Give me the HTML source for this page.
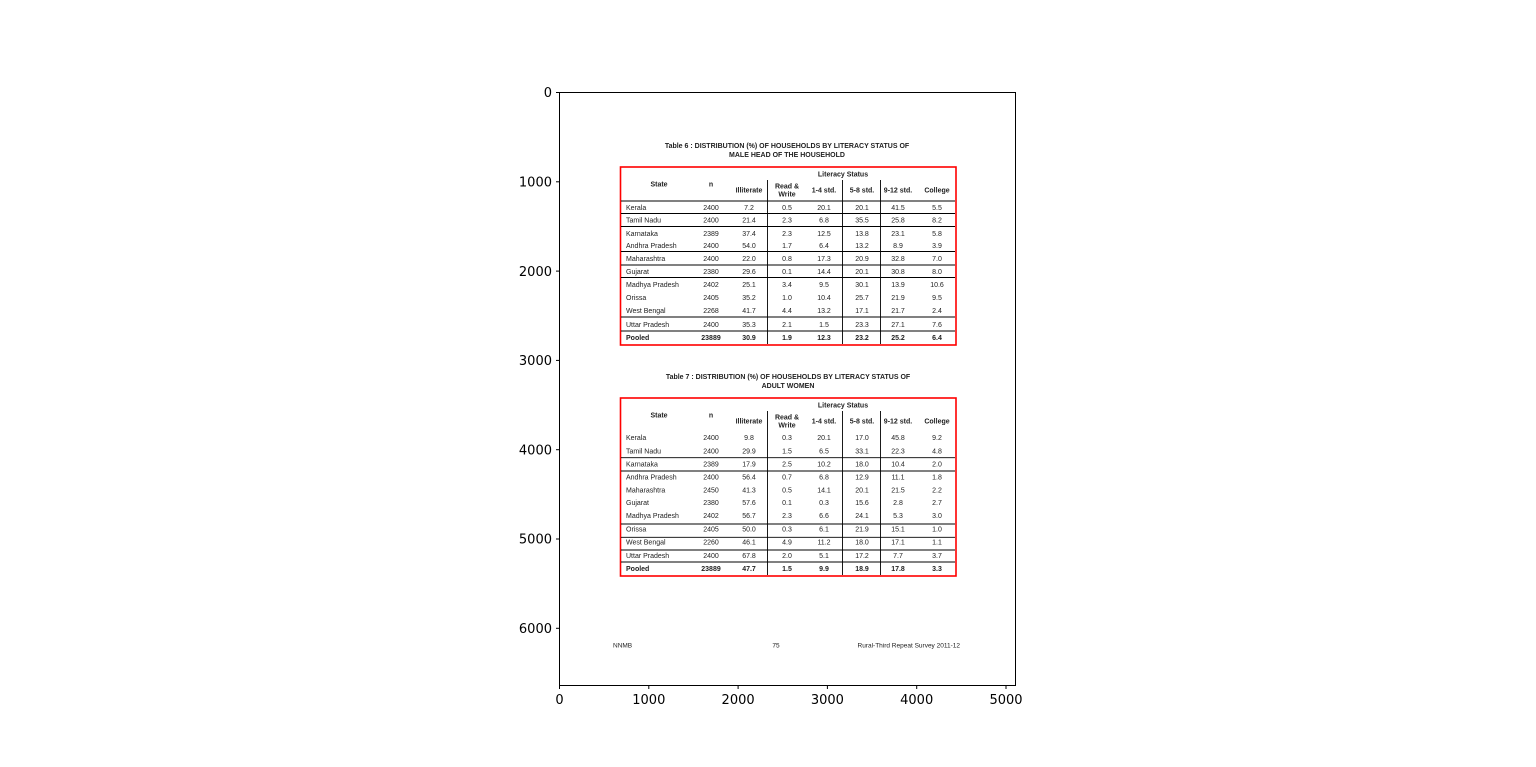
<!DOCTYPE html>
<html><head><meta charset="utf-8"><style>
html,body{margin:0;padding:0;background:#fff;}
svg{display:block;}
.t{font-family:"Liberation Sans",Arial,sans-serif;font-size:7px;fill:#222;}
.b{font-weight:bold;}
.ax{font-family:"DejaVu Sans",sans-serif;font-size:13px;fill:#000;}
</style></head><body>
<svg width="1536" height="767" viewBox="0 0 1536 767" xmlns="http://www.w3.org/2000/svg">
<rect x="0" y="0" width="1536" height="767" fill="#fff"/>
<rect x="559.5" y="92.5" width="456" height="593" fill="#fff" stroke="#000" stroke-width="1"/>
<!-- x ticks -->
<g stroke="#000" stroke-width="1">
<line x1="559.5" y1="685.5" x2="559.5" y2="689"/><line x1="648.8" y1="685.5" x2="648.8" y2="689"/><line x1="738.1" y1="685.5" x2="738.1" y2="689"/><line x1="827.4" y1="685.5" x2="827.4" y2="689"/><line x1="916.7" y1="685.5" x2="916.7" y2="689"/><line x1="1006" y1="685.5" x2="1006" y2="689"/>
<line x1="556" y1="92.5" x2="559.5" y2="92.5"/><line x1="556" y1="181.8" x2="559.5" y2="181.8"/><line x1="556" y1="271.1" x2="559.5" y2="271.1"/><line x1="556" y1="360.4" x2="559.5" y2="360.4"/><line x1="556" y1="449.7" x2="559.5" y2="449.7"/><line x1="556" y1="539" x2="559.5" y2="539"/><line x1="556" y1="628.3" x2="559.5" y2="628.3"/>
</g>
<g class="ax" text-anchor="middle">
<text x="559.5" y="704">0</text><text x="648.8" y="704">1000</text><text x="738.1" y="704">2000</text><text x="827.4" y="704">3000</text><text x="916.7" y="704">4000</text><text x="1006" y="704">5000</text>
</g>
<g class="ax" text-anchor="end">
<text x="552" y="97">0</text><text x="552" y="186.5">1000</text><text x="552" y="275.8">2000</text><text x="552" y="365">3000</text><text x="552" y="454.4">4000</text><text x="552" y="543.7">5000</text><text x="552" y="633">6000</text>
</g>

<!-- Table 6 -->
<g class="t b" text-anchor="middle">
<text x="787" y="148">Table 6 : DISTRIBUTION (%) OF HOUSEHOLDS BY LITERACY STATUS OF</text>
<text x="787" y="157">MALE HEAD OF THE HOUSEHOLD</text>
</g>
<rect x="620.5" y="167" width="335.5" height="178" fill="none" stroke="#f00" stroke-width="1.6"/>
<g stroke="#000" stroke-width="0.9">
<line x1="767.5" y1="180" x2="767.5" y2="344"/><line x1="842.5" y1="180" x2="842.5" y2="344"/><line x1="880.5" y1="180" x2="880.5" y2="344"/>
<line x1="621" y1="201" x2="955" y2="201"/><line x1="621" y1="213.5" x2="955" y2="213.5"/><line x1="621" y1="226.5" x2="955" y2="226.5"/><line x1="621" y1="251.5" x2="955" y2="251.5"/><line x1="621" y1="265" x2="955" y2="265"/><line x1="621" y1="277.5" x2="955" y2="277.5"/><line x1="621" y1="317" x2="955" y2="317"/><line x1="621" y1="331" x2="955" y2="331"/>
</g>
<g class="t b" text-anchor="middle">
<text x="843" y="176.5">Literacy Status</text>
<text x="659" y="186.5">State</text><text x="711" y="186.5">n</text>
<text x="749" y="192.5">Illiterate</text><text x="787" y="188.5">Read &amp;</text><text x="787" y="196.5">Write</text>
<text x="824" y="192.5">1-4 std.</text><text x="862" y="192.5">5-8 std.</text><text x="898" y="192.5">9-12 std.</text><text x="937" y="192.5">College</text>
</g>
<g class="t">
<text x="626" y="209.8">Kerala</text><text x="626" y="222.5">Tamil Nadu</text><text x="626" y="235.8">Karnataka</text><text x="626" y="248.2">Andhra Pradesh</text><text x="626" y="260.8">Maharashtra</text><text x="626" y="273.8">Gujarat</text><text x="626" y="286.8">Madhya Pradesh</text><text x="626" y="300.2">Orissa</text><text x="626" y="313.2">West Bengal</text><text x="626" y="326.8">Uttar Pradesh</text><text x="626" y="339.8" class="b">Pooled</text>
</g>
<g class="t" text-anchor="middle">
<text x="711" y="209.8">2400</text><text x="749" y="209.8">7.2</text><text x="787" y="209.8">0.5</text><text x="824" y="209.8">20.1</text><text x="862" y="209.8">20.1</text><text x="898" y="209.8">41.5</text><text x="937" y="209.8">5.5</text>
<text x="711" y="222.5">2400</text><text x="749" y="222.5">21.4</text><text x="787" y="222.5">2.3</text><text x="824" y="222.5">6.8</text><text x="862" y="222.5">35.5</text><text x="898" y="222.5">25.8</text><text x="937" y="222.5">8.2</text>
<text x="711" y="235.8">2389</text><text x="749" y="235.8">37.4</text><text x="787" y="235.8">2.3</text><text x="824" y="235.8">12.5</text><text x="862" y="235.8">13.8</text><text x="898" y="235.8">23.1</text><text x="937" y="235.8">5.8</text>
<text x="711" y="248.2">2400</text><text x="749" y="248.2">54.0</text><text x="787" y="248.2">1.7</text><text x="824" y="248.2">6.4</text><text x="862" y="248.2">13.2</text><text x="898" y="248.2">8.9</text><text x="937" y="248.2">3.9</text>
<text x="711" y="260.8">2400</text><text x="749" y="260.8">22.0</text><text x="787" y="260.8">0.8</text><text x="824" y="260.8">17.3</text><text x="862" y="260.8">20.9</text><text x="898" y="260.8">32.8</text><text x="937" y="260.8">7.0</text>
<text x="711" y="273.8">2380</text><text x="749" y="273.8">29.6</text><text x="787" y="273.8">0.1</text><text x="824" y="273.8">14.4</text><text x="862" y="273.8">20.1</text><text x="898" y="273.8">30.8</text><text x="937" y="273.8">8.0</text>
<text x="711" y="286.8">2402</text><text x="749" y="286.8">25.1</text><text x="787" y="286.8">3.4</text><text x="824" y="286.8">9.5</text><text x="862" y="286.8">30.1</text><text x="898" y="286.8">13.9</text><text x="937" y="286.8">10.6</text>
<text x="711" y="300.2">2405</text><text x="749" y="300.2">35.2</text><text x="787" y="300.2">1.0</text><text x="824" y="300.2">10.4</text><text x="862" y="300.2">25.7</text><text x="898" y="300.2">21.9</text><text x="937" y="300.2">9.5</text>
<text x="711" y="313.2">2268</text><text x="749" y="313.2">41.7</text><text x="787" y="313.2">4.4</text><text x="824" y="313.2">13.2</text><text x="862" y="313.2">17.1</text><text x="898" y="313.2">21.7</text><text x="937" y="313.2">2.4</text>
<text x="711" y="326.8">2400</text><text x="749" y="326.8">35.3</text><text x="787" y="326.8">2.1</text><text x="824" y="326.8">1.5</text><text x="862" y="326.8">23.3</text><text x="898" y="326.8">27.1</text><text x="937" y="326.8">7.6</text>
</g>
<g class="t b" text-anchor="middle">
<text x="711" y="339.8">23889</text><text x="749" y="339.8">30.9</text><text x="787" y="339.8">1.9</text><text x="824" y="339.8">12.3</text><text x="862" y="339.8">23.2</text><text x="898" y="339.8">25.2</text><text x="937" y="339.8">6.4</text>
</g>

<!-- Table 7 -->
<g class="t b" text-anchor="middle">
<text x="788" y="379">Table 7 : DISTRIBUTION (%) OF HOUSEHOLDS BY LITERACY STATUS OF</text>
<text x="788" y="388">ADULT WOMEN</text>
</g>
<rect x="620.5" y="398" width="335.5" height="178" fill="none" stroke="#f00" stroke-width="1.6"/>
<g stroke="#000" stroke-width="0.9">
<line x1="767.5" y1="411" x2="767.5" y2="575"/><line x1="842.5" y1="411" x2="842.5" y2="575"/><line x1="880.5" y1="411" x2="880.5" y2="575"/>
<line x1="621" y1="457.7" x2="955" y2="457.7"/><line x1="621" y1="471" x2="955" y2="471"/><line x1="621" y1="524" x2="955" y2="524"/><line x1="621" y1="537.3" x2="955" y2="537.3"/><line x1="621" y1="550" x2="955" y2="550"/><line x1="621" y1="562" x2="955" y2="562"/>
</g>
<g class="t b" text-anchor="middle">
<text x="843" y="407.5">Literacy Status</text>
<text x="659" y="417.5">State</text><text x="711" y="417.5">n</text>
<text x="749" y="423.5">Illiterate</text><text x="787" y="419.5">Read &amp;</text><text x="787" y="427.5">Write</text>
<text x="824" y="423.5">1-4 std.</text><text x="862" y="423.5">5-8 std.</text><text x="898" y="423.5">9-12 std.</text><text x="937" y="423.5">College</text>
</g>
<g class="t">
<text x="626" y="440.2">Kerala</text><text x="626" y="453.5">Tamil Nadu</text><text x="626" y="466.5">Karnataka</text><text x="626" y="479.5">Andhra Pradesh</text><text x="626" y="492.5">Maharashtra</text><text x="626" y="505.2">Gujarat</text><text x="626" y="518.2">Madhya Pradesh</text><text x="626" y="531.5">Orissa</text><text x="626" y="544.5">West Bengal</text><text x="626" y="557.8">Uttar Pradesh</text><text x="626" y="571.2" class="b">Pooled</text>
</g>
<g class="t" text-anchor="middle">
<text x="711" y="440.2">2400</text><text x="749" y="440.2">9.8</text><text x="787" y="440.2">0.3</text><text x="824" y="440.2">20.1</text><text x="862" y="440.2">17.0</text><text x="898" y="440.2">45.8</text><text x="937" y="440.2">9.2</text>
<text x="711" y="453.5">2400</text><text x="749" y="453.5">29.9</text><text x="787" y="453.5">1.5</text><text x="824" y="453.5">6.5</text><text x="862" y="453.5">33.1</text><text x="898" y="453.5">22.3</text><text x="937" y="453.5">4.8</text>
<text x="711" y="466.5">2389</text><text x="749" y="466.5">17.9</text><text x="787" y="466.5">2.5</text><text x="824" y="466.5">10.2</text><text x="862" y="466.5">18.0</text><text x="898" y="466.5">10.4</text><text x="937" y="466.5">2.0</text>
<text x="711" y="479.5">2400</text><text x="749" y="479.5">56.4</text><text x="787" y="479.5">0.7</text><text x="824" y="479.5">6.8</text><text x="862" y="479.5">12.9</text><text x="898" y="479.5">11.1</text><text x="937" y="479.5">1.8</text>
<text x="711" y="492.5">2450</text><text x="749" y="492.5">41.3</text><text x="787" y="492.5">0.5</text><text x="824" y="492.5">14.1</text><text x="862" y="492.5">20.1</text><text x="898" y="492.5">21.5</text><text x="937" y="492.5">2.2</text>
<text x="711" y="505.2">2380</text><text x="749" y="505.2">57.6</text><text x="787" y="505.2">0.1</text><text x="824" y="505.2">0.3</text><text x="862" y="505.2">15.6</text><text x="898" y="505.2">2.8</text><text x="937" y="505.2">2.7</text>
<text x="711" y="518.2">2402</text><text x="749" y="518.2">56.7</text><text x="787" y="518.2">2.3</text><text x="824" y="518.2">6.6</text><text x="862" y="518.2">24.1</text><text x="898" y="518.2">5.3</text><text x="937" y="518.2">3.0</text>
<text x="711" y="531.5">2405</text><text x="749" y="531.5">50.0</text><text x="787" y="531.5">0.3</text><text x="824" y="531.5">6.1</text><text x="862" y="531.5">21.9</text><text x="898" y="531.5">15.1</text><text x="937" y="531.5">1.0</text>
<text x="711" y="544.5">2260</text><text x="749" y="544.5">46.1</text><text x="787" y="544.5">4.9</text><text x="824" y="544.5">11.2</text><text x="862" y="544.5">18.0</text><text x="898" y="544.5">17.1</text><text x="937" y="544.5">1.1</text>
<text x="711" y="557.8">2400</text><text x="749" y="557.8">67.8</text><text x="787" y="557.8">2.0</text><text x="824" y="557.8">5.1</text><text x="862" y="557.8">17.2</text><text x="898" y="557.8">7.7</text><text x="937" y="557.8">3.7</text>
</g>
<g class="t b" text-anchor="middle">
<text x="711" y="571.2">23889</text><text x="749" y="571.2">47.7</text><text x="787" y="571.2">1.5</text><text x="824" y="571.2">9.9</text><text x="862" y="571.2">18.9</text><text x="898" y="571.2">17.8</text><text x="937" y="571.2">3.3</text>
</g>

<!-- footer -->
<g class="t" style="font-size:6.5px">
<text x="613" y="647.5">NNMB</text>
<text x="776" y="647.5" text-anchor="middle">75</text>
<text x="960" y="647.5" text-anchor="end">Rural-Third Repeat Survey 2011-12</text>
</g>
</svg>
</body></html>
